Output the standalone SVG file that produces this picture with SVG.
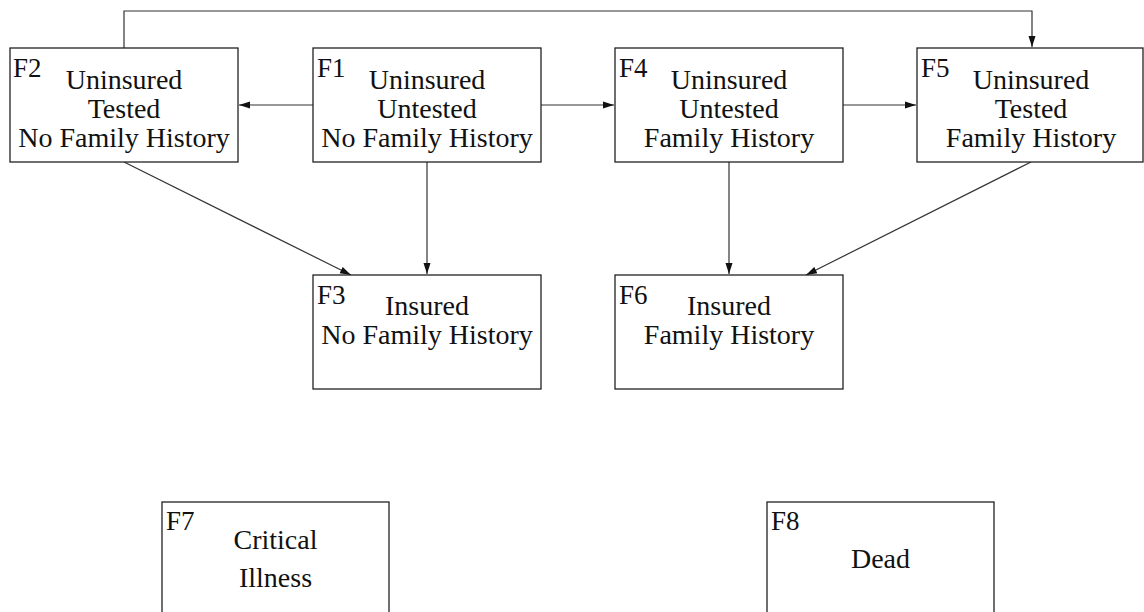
<svg xmlns="http://www.w3.org/2000/svg" width="1144" height="612" viewBox="0 0 1144 612">
<style>
text{font-family:'Liberation Serif','Times New Roman',serif;fill:#111}
.t{font-size:28px;text-anchor:middle}
.lb{font-size:27px}
.box{fill:#fff;stroke:#222;stroke-width:1.3}
.c{fill:none;stroke:#333;stroke-width:1.2}
</style>
<defs>
<marker id="ah" markerUnits="userSpaceOnUse" markerWidth="12" markerHeight="8" refX="11" refY="4" orient="auto">
<path d="M0,0.5 L11,4 L0,7.5 Z" fill="#111"/>
</marker>
</defs>
<rect width="1144" height="612" fill="#fff"/>
<g id="connectors">
<line class="c" x1="313" y1="105" x2="239" y2="105" marker-end="url(#ah)"/>
<line class="c" x1="541" y1="105" x2="614" y2="105" marker-end="url(#ah)"/>
<line class="c" x1="843" y1="105" x2="916" y2="105" marker-end="url(#ah)"/>
<line class="c" x1="427" y1="162" x2="427" y2="274" marker-end="url(#ah)"/>
<line class="c" x1="124" y1="162" x2="351" y2="275" marker-end="url(#ah)"/>
<line class="c" x1="729" y1="162" x2="729" y2="274" marker-end="url(#ah)"/>
<line class="c" x1="1031" y1="162" x2="806" y2="275" marker-end="url(#ah)"/>
<polyline class="c" points="124,48 124,11 1032,11 1032,47" marker-end="url(#ah)"/>
</g>
<g id="F2">
<rect class="box" x="10" y="48" width="228" height="114"/>
<text class="lb" x="13" y="77">F2</text>
<text class="t" x="124" y="89">Uninsured</text>
<text class="t" x="124" y="118">Tested</text>
<text class="t" x="124" y="147">No Family History</text>
</g>
<g id="F1">
<rect class="box" x="313" y="48" width="228" height="114"/>
<text class="lb" x="317" y="77">F1</text>
<text class="t" x="427" y="89">Uninsured</text>
<text class="t" x="427" y="118">Untested</text>
<text class="t" x="427" y="147">No Family History</text>
</g>
<g id="F4">
<rect class="box" x="615" y="48" width="228" height="114"/>
<text class="lb" x="619" y="77">F4</text>
<text class="t" x="729" y="89">Uninsured</text>
<text class="t" x="729" y="118">Untested</text>
<text class="t" x="729" y="147">Family History</text>
</g>
<g id="F5">
<rect class="box" x="917" y="48" width="226" height="114"/>
<text class="lb" x="921" y="77">F5</text>
<text class="t" x="1031" y="89">Uninsured</text>
<text class="t" x="1031" y="118">Tested</text>
<text class="t" x="1031" y="147">Family History</text>
</g>
<g id="F3">
<rect class="box" x="313" y="275" width="228" height="114"/>
<text class="lb" x="317" y="304">F3</text>
<text class="t" x="427" y="315">Insured</text>
<text class="t" x="427" y="344">No Family History</text>
</g>
<g id="F6">
<rect class="box" x="615" y="275" width="228" height="114"/>
<text class="lb" x="619" y="304">F6</text>
<text class="t" x="729" y="315">Insured</text>
<text class="t" x="729" y="344">Family History</text>
</g>
<g id="F7">
<rect class="box" x="162" y="502" width="227" height="130"/>
<text class="lb" x="166" y="530">F7</text>
<text class="t" x="275.5" y="549">Critical</text>
<text class="t" x="275.5" y="587">Illness</text>
</g>
<g id="F8">
<rect class="box" x="767" y="502" width="227" height="130"/>
<text class="lb" x="771" y="530">F8</text>
<text class="t" x="880.5" y="568">Dead</text>
</g>
</svg>
